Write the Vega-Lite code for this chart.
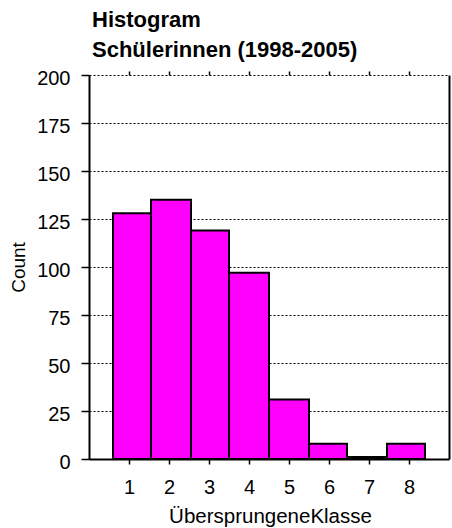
{
  "$schema": "https://vega.github.io/schema/vega-lite/v6.json",
  "width": 360,
  "height": 384,
  "autosize": {"type": "none"},
  "padding": {"left": 89, "top": 75, "right": 3, "bottom": 69},
  "background": "white",
  "config": {
    "view": {"stroke": null},
    "font": "Liberation Sans",
    "axis": {"labelFont": "Liberation Sans", "titleFont": "Liberation Sans", "labelColor": "black", "titleColor": "black"}
  },
  "title": {
    "text": ["Histogram", "Schülerinnen (1998-2005)"],
    "anchor": "start",
    "frame": "group",
    "font": "Liberation Sans",
    "fontSize": 22,
    "fontWeight": "bold",
    "color": "black",
    "lineHeight": 30,
    "baseline": "bottom",
    "dx": 3,
    "dy": 27,
    "offset": 11
  },
  "data": {
    "values": [
      {"klasse": 1, "lo": 0.6, "hi": 1.55, "count": 128},
      {"klasse": 2, "lo": 1.55, "hi": 2.55, "count": 135},
      {"klasse": 3, "lo": 2.55, "hi": 3.5, "count": 119},
      {"klasse": 4, "lo": 3.5, "hi": 4.5, "count": 97},
      {"klasse": 5, "lo": 4.5, "hi": 5.5, "count": 31},
      {"klasse": 6, "lo": 5.5, "hi": 6.45, "count": 8},
      {"klasse": 7, "lo": 6.45, "hi": 7.45, "count": 1},
      {"klasse": 8, "lo": 7.45, "hi": 8.4, "count": 8}
    ]
  },
  "layer": [
    {
      "mark": {"type": "bar", "fill": "#ff00ff", "stroke": "black", "strokeWidth": 2},
      "encoding": {
        "x": {
          "field": "lo", "type": "quantitative",
          "scale": {"domain": [0, 9], "nice": false, "zero": false},
          "axis": {
            "orient": "bottom",
            "title": "ÜbersprungeneKlasse",
            "values": [1, 2, 3, 4, 5, 6, 7, 8],
            "grid": false,
            "domainColor": "black", "domainWidth": 2,
            "tickColor": "black", "tickWidth": 1.5, "tickSize": 5,
            "labelFontSize": 20, "labelBaseline": "alphabetic", "labelPadding": 29,
            "labelFlush": false,
            "titleFontSize": 20.5, "titleFontWeight": "normal",
            "titleBaseline": "alphabetic", "titleY": 63, "titleX": 181
          }
        },
        "x2": {"field": "hi"},
        "y": {
          "field": "count", "type": "quantitative",
          "scale": {"domain": [0, 200], "nice": false},
          "axis": {
            "orient": "left",
            "title": "Count",
            "values": [0, 25, 50, 75, 100, 125, 150, 175, 200],
            "grid": true, "gridColor": "black", "gridDash": [2, 2], "gridWidth": 1, "gridOpacity": 1,
            "domainColor": "black", "domainWidth": 2,
            "tickColor": "black", "tickWidth": 1.5, "tickSize": 8,
            "labelFontSize": 20, "labelPadding": 11, "labelOffset": 3,
            "labelFlush": false,
            "titleFontSize": 19, "titleFontWeight": "normal",
            "titleAngle": -90, "titleBaseline": "alphabetic", "titleAlign": "center",
            "titleX": -65, "titleY": 192
          }
        },
        "y2": {"datum": 0}
      }
    },
    {
      "mark": {"type": "bar", "opacity": 0},
      "encoding": {
        "x": {
          "field": "lo", "type": "quantitative",
          "axis": {
            "orient": "top", "title": null, "labels": false, "domain": false, "grid": false,
            "values": [1, 2, 3, 4, 5, 6, 7, 8],
            "tickColor": "black", "tickWidth": 1.5, "tickSize": 4
          }
        },
        "x2": {"field": "hi"},
        "y": {
          "field": "count", "type": "quantitative",
          "axis": {
            "orient": "right", "title": null, "labels": false, "ticks": false, "grid": false,
            "domainColor": "black", "domainWidth": 2
          }
        },
        "y2": {"datum": 0}
      }
    }
  ],
  "resolve": {"axis": {"x": "independent", "y": "independent"}}
}
